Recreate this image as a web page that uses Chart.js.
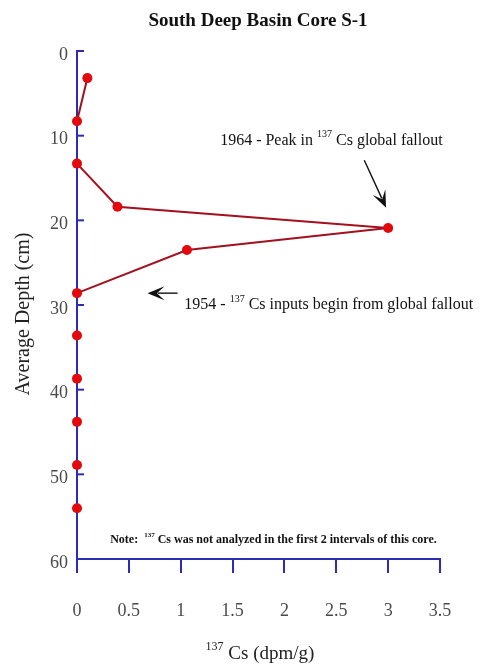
<!DOCTYPE html>
<html>
<head>
<meta charset="utf-8">
<script src="https://cdn.jsdelivr.net/npm/chart.js@4.4.1/dist/chart.umd.min.js"></script>
<style>
  html, body { margin: 0; padding: 0; background: #fff; }
  #wrap { width: 492px; height: 665px; position: relative; }
</style>
</head>
<body>
<div id="wrap"><canvas id="c" width="492" height="665"></canvas></div>
<script>
// 137Cs activity (dpm/g) against average sample depth (cm), core S-1
const depthCm = [3.2, 8.3, 13.3, 18.4, 20.9, 23.5, 28.6, 33.6, 38.7, 43.8, 48.9, 54.0];
const csActivity = [0.1, 0, 0, 0.39, 3.0, 1.06, 0, 0, 0, 0, 0, 0];
const xTicks = [0, 0.5, 1, 1.5, 2, 2.5, 3, 3.5];
const yTicks = [0, 10, 20, 30, 40, 50, 60];

const SERIF = '"Liberation Serif", "Times New Roman", serif';
const AXIS_BLUE = '#2c2cb4';
const LINE_RED = '#a3101e';
const POINT_RED = '#e3080c';
const LABEL_GREY = '#4a4a4a';

const points = depthCm.map((d, i) => ({ x: csActivity[i], y: d }));

// Write a run of text pieces; pieces flagged sup are set smaller and raised.
function drawRich(ctx, parts, x, y, size, weight, color) {
  ctx.save();
  ctx.fillStyle = color;
  ctx.textBaseline = 'middle';
  ctx.textAlign = 'left';
  let cx = x;
  for (const p of parts) {
    const s = p.sup ? Math.round(size * 0.62) : size;
    ctx.font = `${weight} ${s}px ${SERIF}`;
    ctx.fillText(p.t, cx, p.sup ? y - size * 0.38 : y);
    cx += ctx.measureText(p.t).width;
  }
  ctx.restore();
  return cx - x;
}

function measureRich(ctx, parts, size, weight) {
  ctx.save();
  let w = 0;
  for (const p of parts) {
    const s = p.sup ? Math.round(size * 0.62) : size;
    ctx.font = `${weight} ${s}px ${SERIF}`;
    w += ctx.measureText(p.t).width;
  }
  ctx.restore();
  return w;
}

function arrow(ctx, x1, y1, x2, y2) {
  const ang = Math.atan2(y2 - y1, x2 - x1);
  const len = 17, half = 7;
  ctx.save();
  ctx.strokeStyle = '#111';
  ctx.fillStyle = '#111';
  ctx.lineWidth = 1.4;
  ctx.beginPath();
  ctx.moveTo(x1, y1);
  ctx.lineTo(x2 - Math.cos(ang) * len * 0.6, y2 - Math.sin(ang) * len * 0.6);
  ctx.stroke();
  const bx = x2 - Math.cos(ang) * len, by = y2 - Math.sin(ang) * len;
  const nx = -Math.sin(ang), ny = Math.cos(ang);
  ctx.beginPath();
  ctx.moveTo(x2, y2);
  ctx.lineTo(bx + nx * half, by + ny * half);
  ctx.lineTo(x2 - Math.cos(ang) * len * 0.55, y2 - Math.sin(ang) * len * 0.55);
  ctx.lineTo(bx - nx * half, by - ny * half);
  ctx.closePath();
  ctx.fill();
  ctx.restore();
}

const decorations = {
  id: 'decorations',
  beforeDatasetsDraw(chart) {
    // short inward tick marks along the depth axis
    const { ctx, scales: { x, y } } = chart;
    const x0 = x.getPixelForValue(0);
    ctx.save();
    ctx.strokeStyle = AXIS_BLUE;
    ctx.lineWidth = 2;
    for (const v of yTicks) {
      const py = y.getPixelForValue(v);
      ctx.beginPath();
      ctx.moveTo(x0, py);
      ctx.lineTo(x0 + 7, py);
      ctx.stroke();
    }
    ctx.restore();
  },
  afterDraw(chart) {
    const { ctx, scales: { x, y } } = chart;

    // title
    ctx.save();
    ctx.fillStyle = '#111';
    ctx.font = `bold 19px ${SERIF}`;
    ctx.textAlign = 'center';
    ctx.textBaseline = 'middle';
    ctx.fillText('South Deep Basin Core S-1', 258, 21);
    ctx.restore();

    // x axis title
    const xt = [{ t: '137', sup: true }, { t: ' Cs (dpm/g)' }];
    const xtw = measureRich(ctx, xt, 19, 'normal');
    drawRich(ctx, xt, 260 - xtw / 2, 654, 19, 'normal', '#222');

    // y axis title
    ctx.save();
    ctx.translate(24, 314);
    ctx.rotate(-Math.PI / 2);
    ctx.fillStyle = '#222';
    ctx.font = `normal 20px ${SERIF}`;
    ctx.textAlign = 'center';
    ctx.textBaseline = 'middle';
    ctx.fillText('Average Depth (cm)', 0, 0);
    ctx.restore();

    // 1964 peak annotation
    drawRich(ctx, [{ t: '1964 - Peak in ' }, { t: '137', sup: true }, { t: ' Cs global fallout' }],
      x.getPixelForValue(1.38), y.getPixelForValue(10.6), 16, 'normal', '#111');
    arrow(ctx, x.getPixelForValue(2.77), y.getPixelForValue(12.9),
      x.getPixelForValue(2.98), y.getPixelForValue(18.5));

    // 1954 onset annotation
    drawRich(ctx, [{ t: '1954 - ' }, { t: '137', sup: true }, { t: ' Cs inputs begin from global fallout' }],
      x.getPixelForValue(1.035), y.getPixelForValue(30.0), 16, 'normal', '#111');
    arrow(ctx, x.getPixelForValue(0.97), y.getPixelForValue(28.6),
      x.getPixelForValue(0.68), y.getPixelForValue(28.6));

    // note
    drawRich(ctx, [{ t: 'Note:  ' }, { t: '137', sup: true }, { t: ' Cs was not analyzed in the first 2 intervals of this core.' }],
      x.getPixelForValue(0.32), y.getPixelForValue(57.7), 12, 'bold', '#111');
  }
};

new Chart(document.getElementById('c'), {
  type: 'scatter',
  data: {
    datasets: [{
      data: points,
      showLine: true,
      clip: false,
      borderColor: LINE_RED,
      borderWidth: 2,
      pointRadius: 5,
      pointHoverRadius: 5,
      pointBackgroundColor: POINT_RED,
      pointBorderColor: POINT_RED,
      pointBorderWidth: 0,
      segment: {
        borderColor: c => (c.p0.parsed.x === 0 && c.p1.parsed.x === 0) ? 'rgba(0,0,0,0)' : LINE_RED
      }
    }]
  },
  plugins: [decorations],
  options: {
    responsive: false,
    animation: false,
    events: [],
    layout: { padding: { top: 51, right: 52, left: 0, bottom: 0 } },
    plugins: { legend: { display: false }, tooltip: { enabled: false }, title: { display: false } },
    scales: {
      x: {
        type: 'linear',
        min: 0,
        max: 3.5,
        afterBuildTicks: s => { s.ticks = xTicks.map(v => ({ value: v })); },
        afterFit: s => { s.height = 106; },
        ticks: {
          color: LABEL_GREY, font: { family: SERIF, size: 18 }, padding: 27, maxRotation: 0,
          callback: v => String(v)
        },
        grid: { drawOnChartArea: false, tickLength: 14, color: AXIS_BLUE, lineWidth: 2 },
        border: { color: AXIS_BLUE, width: 2 }
      },
      y: {
        type: 'linear',
        reverse: true,
        min: 0,
        max: 60,
        afterBuildTicks: s => { s.ticks = yTicks.map(v => ({ value: v })); },
        afterFit: s => { s.width = 77; },
        ticks: {
          color: LABEL_GREY, font: { family: SERIF, size: 18 }, padding: 9, labelOffset: 4,
          callback: v => String(v)
        },
        grid: { drawOnChartArea: false, drawTicks: false },
        border: { color: AXIS_BLUE, width: 2 }
      }
    }
  }
});
</script>
</body>
</html>
